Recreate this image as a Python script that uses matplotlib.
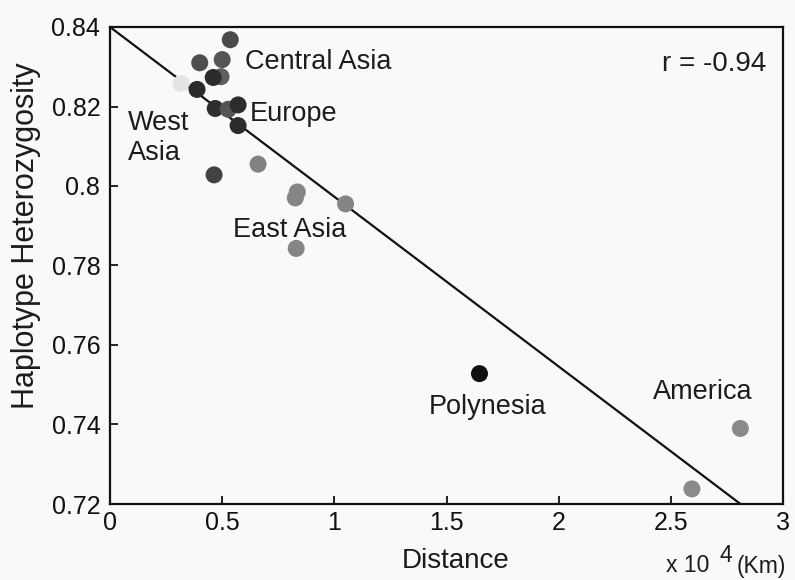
import numpy as np
import matplotlib
matplotlib.use("Agg")
import matplotlib.pyplot as plt

plt.rcParams['font.family'] = ['Liberation Sans', 'DejaVu Sans']

# distance (x 10^4 km) and haplotype heterozygosity per population
distance = [0.536, 0.40, 0.50, 0.495, 0.46, 0.317, 0.388, 0.469, 0.527, 0.571,
            0.571, 0.464, 0.66, 0.835, 0.826, 1.05, 0.83, 1.647, 2.81, 2.594]
heterozygosity = [0.8368, 0.831, 0.8318, 0.8275, 0.8273, 0.8258, 0.8243, 0.8195,
                  0.8193, 0.8204, 0.8152, 0.8028, 0.8055, 0.7985, 0.797, 0.7955,
                  0.7843, 0.7528, 0.739, 0.7238]
dot_colors = ['#4a4a4a', '#4e4e4e', '#555555', '#5e5e5e', '#2c2c2c', '#e4e4e4',
              '#2a2a2a', '#2e2e2e', '#555555', '#2c2c2c', '#2c2c2c', '#424242',
              '#828282', '#858585', '#858585', '#858585', '#858585', '#111111',
              '#8a8a8a', '#8a8a8a']

# regression line
fit_intercept = 0.84
fit_slope = -0.0427
r_value = -0.94

region_names = ['Central Asia', 'Europe', 'West\nAsia', 'East Asia', 'Polynesia', 'America']
region_x = [0.603, 0.625, 0.08, 0.549, 1.42, 2.42]
region_y = [0.8313, 0.818, 0.812, 0.789, 0.7445, 0.7483]

xticks = [0, 0.5, 1, 1.5, 2, 2.5, 3]
yticks = [0.72, 0.74, 0.76, 0.78, 0.8, 0.82, 0.84]

bg = '#f9f9f9'
txt = '#1c1c1c'
W, H = 795, 580
fig = plt.figure(figsize=(7.95, 5.8), dpi=100, facecolor=bg)
ax = fig.add_axes([110 / W, 1 - 504 / H, 673 / W, 477 / H], facecolor=bg)

xs = np.array([0, 3])
ax.plot(xs, fit_intercept + fit_slope * xs, color='#111111', lw=1.6, zorder=2)
ax.scatter(distance, heterozygosity, s=150, c=dot_colors, edgecolors='none', zorder=3)

for name, tx, ty in zip(region_names, region_x, region_y):
    ax.text(tx, ty, name, fontsize=19.5, ha='left', va='center', color=txt,
            linespacing=1.2)
ax.text(2.46, 0.8308, 'r = %.2f' % r_value, fontsize=20, ha='left', va='center',
        color=txt)

ax.set_xlim(0, 3)
ax.set_ylim(0.72, 0.84)
ax.set_xticks(xticks)
ax.set_xticklabels(['0', '0.5', '1', '1.5', '2', '2.5', '3'])
ax.set_yticks(yticks)
ax.set_yticklabels(['0.72', '0.74', '0.76', '0.78', '0.8', '0.82', '0.84'])
ax.tick_params(direction='in', length=6, width=1.3, labelsize=18, colors='#111111')
ax.tick_params(axis='y', pad=7)
ax.tick_params(axis='x', pad=5)
for sp in ax.spines.values():
    sp.set_linewidth(1.6)
    sp.set_color('#111111')

# axis titles
fig.text(456 / W, 1 - 561 / H, 'Distance', fontsize=20, ha='center', va='center',
         color=txt)
fig.text(26 / W, 1 - 236 / H, 'Haplotype Heterozygosity', fontsize=22,
         rotation=90, ha='center', va='center', color=txt)
fig.text(666 / W, 1 - 566 / H, 'x 10', fontsize=16.5, ha='left', va='center', color=txt)
fig.text(719 / W, 1 - 555 / H, '4', fontsize=16.5, ha='left', va='center', color=txt)
fig.text(737 / W, 1 - 566 / H, '(Km)', fontsize=16.5, ha='left', va='center', color=txt)

fig.savefig('out.png', dpi=100, facecolor=bg)
